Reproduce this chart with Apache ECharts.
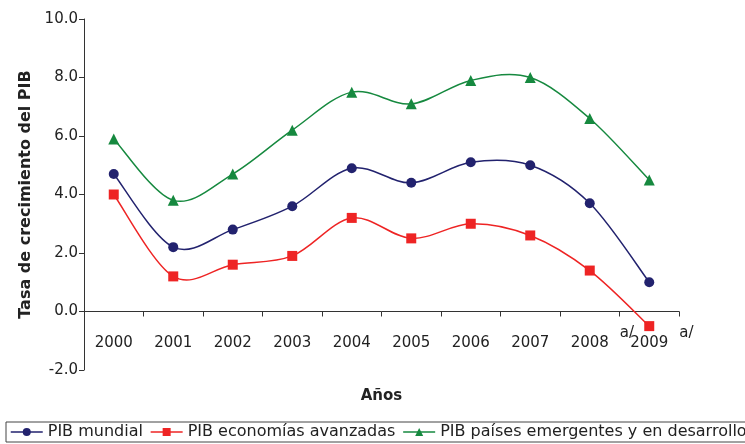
<!DOCTYPE html>
<html>
<head>
<meta charset="utf-8">
<script src="https://cdn.jsdelivr.net/npm/echarts@6/dist/echarts.min.js"></script>
<style>html,body{margin:0;padding:0;background:#fff}#c{width:745px;height:444px}</style>
</head>
<body>
<div id="c"></div>
<script>
var years = ['2000','2001','2002','2003','2004','2005','2006','2007','2008','2009'];
var noteYears = ['2008','2009'];
var mundial = [4.7, 2.2, 2.8, 3.6, 4.9, 4.4, 5.1, 5.0, 3.7, 1.0];
var avanzadas = [4.0, 1.2, 1.6, 1.9, 3.2, 2.5, 3.0, 2.6, 1.4, -0.5];
var emergentes = [5.9, 3.8, 4.7, 6.2, 7.5, 7.1, 7.9, 8.0, 6.6, 4.5];
var names = ['PIB mundial', 'PIB economías avanzadas', 'PIB países emergentes y en desarrollo'];
var colors = ['#22226e', '#ee2424', '#16893f'];
var font = 'DejaVu Sans';

var chart = echarts.init(document.getElementById('c'), null, {renderer: 'canvas'});

// smooth curve (Catmull-Rom style, like spreadsheet smoothing) through the data, via the axes
function curveSeries(i, data) {
  return {
    type: 'custom', coordinateSystem: 'cartesian2d', silent: true, z: 1,
    data: [[0, data[0]]],
    renderItem: function (params, api) {
      var pts = data.map(function (v, k) { return api.coord([k, v]); });
      var n = pts.length, d = 'M' + pts[0][0] + ' ' + pts[0][1];
      for (var k = 0; k < n - 1; k++) {
        var p0 = pts[Math.max(k - 1, 0)], p1 = pts[k], p2 = pts[k + 1], p3 = pts[Math.min(k + 2, n - 1)];
        var c1x = p1[0] + (p2[0] - p0[0]) / 6, c1y = p1[1] + (p2[1] - p0[1]) / 6;
        var c2x = p2[0] - (p3[0] - p1[0]) / 6, c2y = p2[1] - (p3[1] - p1[1]) / 6;
        d += ' C' + c1x + ' ' + c1y + ' ' + c2x + ' ' + c2y + ' ' + p2[0] + ' ' + p2[1];
      }
      return {type: 'path', shape: {pathData: d}, style: {fill: 'none', stroke: colors[i], lineWidth: 1.5}};
    }
  };
}
function mk(i, data, symbol, size) {
  return {
    name: names[i], type: 'line', data: data,
    symbol: symbol, symbolSize: size,
    lineStyle: {color: colors[i], width: 1.5, opacity: 0},
    itemStyle: {color: colors[i]},
    z: 5 - i
  };
}
chart.setOption({
  animation: false,
  textStyle: {fontFamily: font},
  grid: {left: 84, right: 66, top: 19, bottom: 74, containLabel: false, outerBoundsMode: 'none'},
  legend: {
    left: 6, top: 422, width: 900,
    orient: 'horizontal',
    padding: [2, 4, 2, 4],
    borderColor: '#444', borderWidth: 1,
    itemWidth: 32, itemHeight: 10, itemGap: 7,
    textStyle: {fontFamily: font, fontSize: 16, color: '#222'},
    data: names.map(function (nm, i) {
      return {name: nm, lineStyle: {color: colors[i], width: 1.5, opacity: 1}};
    })
  },
  xAxis: {
    type: 'category', data: years, boundaryGap: true,
    name: 'Años', nameLocation: 'middle', nameGap: 19,
    nameTextStyle: {fontFamily: font, fontSize: 15, fontWeight: 'bold', color: '#222'},
    axisLine: {onZero: true, lineStyle: {color: '#333', width: 1}},
    axisTick: {show: true, alignWithLabel: false, length: 5, lineStyle: {color: '#333'}},
    axisLabel: {margin: -34, fontSize: 15, color: '#222', fontFamily: font},
    splitLine: {show: false}
  },
  yAxis: {
    type: 'value', min: -2, max: 10, interval: 2,
    name: 'Tasa de crecimiento del PIB', nameLocation: 'middle', nameGap: 49,
    nameTextStyle: {fontFamily: font, fontSize: 16, fontWeight: 'bold', color: '#222'},
    axisLine: {show: true, lineStyle: {color: '#333', width: 1}},
    axisTick: {show: true, length: 5, lineStyle: {color: '#333'}},
    axisLabel: {fontSize: 15, color: '#222', fontFamily: font, margin: 6,
      formatter: function (v) { return v.toFixed(1); }},
    splitLine: {show: false}
  },
  series: [
    curveSeries(0, mundial),
    curveSeries(1, avanzadas),
    curveSeries(2, emergentes),
    mk(0, mundial, 'circle', 10),
    mk(1, avanzadas, 'rect', 10),
    mk(2, emergentes, 'triangle', 11)
  ]
});
var gr = noteYears.map(function (y) {
  var p = chart.convertToPixel({xAxisIndex: 0}, y);
  return {type: 'text', x: p + 30, y: 333,
    style: {text: 'a/', fontFamily: font, fontSize: 15, fill: '#222', textVerticalAlign: 'middle', verticalAlign: 'middle'}};
});
chart.setOption({graphic: gr});
</script>
</body>
</html>
